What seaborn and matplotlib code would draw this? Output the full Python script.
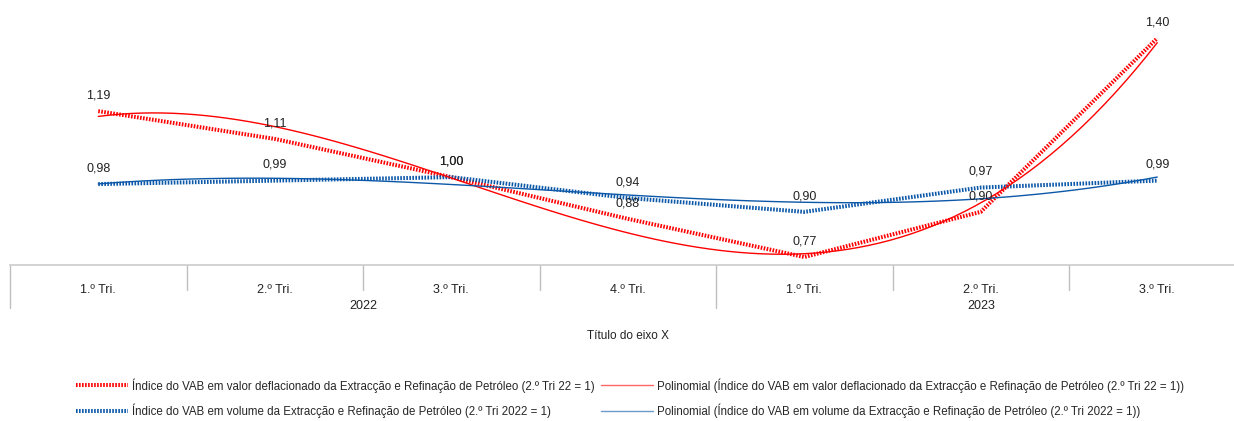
import numpy as np
import pandas as pd
import seaborn as sns
import matplotlib.pyplot as plt
from matplotlib.lines import Line2D

quarters = ["1.º Tri.", "2.º Tri.", "3.º Tri.", "4.º Tri.", "1.º Tri.", "2.º Tri.", "3.º Tri."]
years = ["2022", "2023"]
year_span = [4, 3]
valor = [1.19, 1.11, 1.00, 0.88, 0.77, 0.90, 1.40]
volume = [0.98, 0.99, 1.00, 0.94, 0.90, 0.97, 0.99]

lab_valor = "Índice do VAB em valor deflacionado da Extracção e Refinação de Petróleo (2.º Tri 22 = 1)"
lab_volume = "Índice do VAB em volume da Extracção e Refinação de Petróleo (2.º Tri 2022 = 1)"

RED = "#FF0000"
BLUE = "#0B57A8"
GREY = "#BFBFBF"

sns.set_style("white")
plt.rcParams["font.family"] = ["Liberation Sans Narrow", "Liberation Sans", "DejaVu Sans"]

df = pd.DataFrame({"x": np.arange(len(quarters)), "valor": valor, "volume": volume})

W, H = 1234, 421
fig = plt.figure(figsize=(W / 100, H / 100), dpi=100)
left, right_px, axis_y = 10, 1245.5, 265
ax = fig.add_axes([left / W, (H - axis_y) / H, (right_px - left) / W, axis_y / H])

dotted = (0, (0.4, 0.35))
sns.lineplot(data=df, x="x", y="valor", ax=ax, color=RED, lw=2.9, linestyle=dotted)
sns.lineplot(data=df, x="x", y="volume", ax=ax, color=BLUE, lw=2.9, linestyle=dotted)

# polynomial trendlines
sns.regplot(data=df, x="x", y="valor", ax=ax, order=3, ci=None, scatter=False,
            line_kws=dict(color=RED, lw=1.0))
sns.regplot(data=df, x="x", y="volume", ax=ax, order=3, ci=None, scatter=False,
            line_kws=dict(color=BLUE, lw=1.0))

for i, (a, b) in enumerate(zip(valor, volume)):
    for v in (a, b):
        ax.annotate(f"{v:.2f}".replace(".", ","), (i, v), xytext=(0, 7),
                    textcoords="offset points", ha="center", va="bottom",
                    fontsize=9, color="#222222")

ax.set_xlim(-0.5, len(quarters) - 0.5)
ax.set_ylim(0.747, 1.51)
ax.set_xticks(range(len(quarters)))
ax.set_xticklabels(quarters, fontsize=9, color="#222222")
ax.tick_params(axis="x", length=0, pad=14)
ax.set_yticks([])
ax.set_xlabel("")
ax.set_ylabel("")
for s in ["left", "right", "top"]:
    ax.spines[s].set_visible(False)
ax.spines["bottom"].set_color("#D0D0D0")
ax.spines["bottom"].set_linewidth(1.3)

# category separators
trans = ax.get_xaxis_transform()
short_len = 25 / axis_y
long_len = 43 / axis_y
group_edges = list(np.cumsum([0] + year_span) - 0.5)
for k in range(len(quarters) + 1):
    xk = k - 0.5
    ln = long_len if xk in group_edges else short_len
    ax.plot([xk, xk], [0, -ln], transform=trans, color=GREY, lw=1, clip_on=False)

start = 0
for yr, n in zip(years, year_span):
    ax.text(start + (n - 1) / 2, -41 / axis_y, yr, transform=trans, ha="center",
            va="center", fontsize=9, color="#222222")
    start += n

ax.text(0.5, -71 / axis_y, "Título do eixo X", transform=ax.transAxes, ha="center",
        va="center", fontsize=8.5, color="#222222")

handles = [
    Line2D([], [], color=RED, lw=2.9, linestyle=dotted),
    Line2D([], [], color=BLUE, lw=2.9, linestyle=dotted),
    Line2D([], [], color=RED, lw=1.0, alpha=0.6),
    Line2D([], [], color=BLUE, lw=1.0, alpha=0.6),
]
labels = [lab_valor, lab_volume, f"Polinomial ({lab_valor})", f"Polinomial ({lab_volume})"]
fig.legend(handles, labels, ncol=2, loc="center", bbox_to_anchor=(630 / W, 1 - 398 / H),
           frameon=False, fontsize=8.3, handlelength=4.5, handletextpad=0.35,
           columnspacing=0.5, labelspacing=0.95)

fig.savefig("out.png", dpi=100)
